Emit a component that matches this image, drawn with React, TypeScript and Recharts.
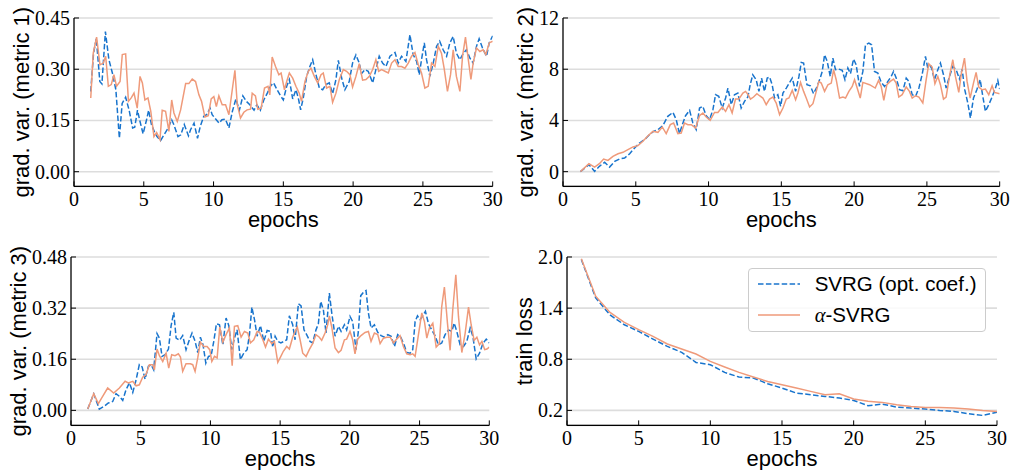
import React from "react";
import {
  LineChart,
  Line,
  XAxis,
  YAxis,
  CartesianGrid,
  Legend,
} from "recharts";

// series names and colours
const SERIES_NAMES = ["SVRG (opt. coef.)", "α-SVRG"];
const BLUE = "#1874cd";
const ORANGE = "#ef9a7a";
const INK = "#000000";

const EPOCH_TICKS = [0, 5, 10, 15, 20, 25, 30];

// grad. var. (metric 1) — [epoch, value]
const m1Svrg = [
  [1.2, 0.235], [1.4, 0.347], [1.6, 0.39], [1.85, 0.264], [2.0, 0.257], [2.25, 0.41], [2.5, 0.328], [2.75, 0.289],
  [3.0, 0.24], [3.25, 0.098], [3.45, 0.2], [3.7, 0.218], [3.95, 0.18], [4.2, 0.128], [4.35, 0.13], [4.55, 0.18],
  [4.7, 0.152], [4.95, 0.111], [5.2, 0.152], [5.35, 0.18], [5.55, 0.138], [5.8, 0.113], [5.95, 0.103], [6.2, 0.091],
  [6.45, 0.108], [6.75, 0.128], [7.0, 0.152], [7.15, 0.138], [7.45, 0.103], [7.65, 0.108], [7.9, 0.138], [8.2, 0.105],
  [8.35, 0.123], [8.6, 0.142], [8.85, 0.098], [9.05, 0.133], [9.3, 0.162], [9.5, 0.167], [9.75, 0.186], [9.9, 0.167],
  [10.15, 0.154], [10.4, 0.142], [10.6, 0.152], [10.85, 0.154], [11.1, 0.128], [11.35, 0.177], [11.6, 0.213], [11.85, 0.18],
  [12.1, 0.222], [12.35, 0.206], [12.6, 0.196], [12.9, 0.18], [13.1, 0.196], [13.35, 0.18], [13.6, 0.21], [13.85, 0.23],
  [14.1, 0.252], [14.3, 0.26], [14.55, 0.24], [14.8, 0.222], [15.0, 0.21], [15.24, 0.25], [15.43, 0.27], [15.67, 0.213],
  [15.9, 0.24], [16.07, 0.216], [16.24, 0.181], [16.43, 0.216], [16.67, 0.279], [16.9, 0.308], [17.1, 0.328], [17.34, 0.284],
  [17.58, 0.245], [17.82, 0.24], [18.05, 0.255], [18.29, 0.26], [18.53, 0.228], [18.77, 0.27], [18.94, 0.326], [19.18, 0.274],
  [19.41, 0.24], [19.72, 0.264], [19.96, 0.318], [20.2, 0.342], [20.44, 0.318], [20.6, 0.287], [20.85, 0.299], [21.08, 0.294],
  [21.4, 0.26], [21.63, 0.299], [21.87, 0.338], [22.11, 0.318], [22.35, 0.308], [22.64, 0.338], [23.0, 0.349], [23.23, 0.318],
  [23.47, 0.338], [23.78, 0.323], [24.07, 0.401], [24.3, 0.343], [24.55, 0.323], [24.74, 0.284], [24.9, 0.328], [25.1, 0.377],
  [25.26, 0.328], [25.5, 0.279], [25.74, 0.318], [25.98, 0.367], [26.2, 0.382], [26.45, 0.357], [26.7, 0.338], [26.93, 0.377],
  [27.17, 0.396], [27.4, 0.347], [27.65, 0.328], [27.9, 0.347], [28.12, 0.357], [28.36, 0.333], [28.6, 0.318], [28.84, 0.367],
  [29.03, 0.389], [29.27, 0.362], [29.56, 0.338], [29.75, 0.377], [30.0, 0.398],
];

const m1Alpha = [
  [1.2, 0.216], [1.38, 0.347], [1.62, 0.394], [1.86, 0.313], [2.1, 0.318], [2.27, 0.338], [2.46, 0.25], [2.67, 0.255],
  [2.86, 0.284], [3.05, 0.25], [3.3, 0.264], [3.46, 0.343], [3.7, 0.345], [3.9, 0.206], [4.1, 0.216], [4.3, 0.23],
  [4.53, 0.186], [4.73, 0.279], [4.9, 0.26], [5.08, 0.21], [5.3, 0.216], [5.5, 0.177], [5.73, 0.103], [5.92, 0.115],
  [6.16, 0.094], [6.32, 0.18], [6.56, 0.177], [6.8, 0.118], [7.0, 0.21], [7.16, 0.172], [7.4, 0.147], [7.64, 0.181],
  [8.0, 0.258], [8.23, 0.258], [8.47, 0.271], [8.71, 0.264], [8.95, 0.225], [9.14, 0.206], [9.38, 0.16], [9.62, 0.164],
  [9.83, 0.213], [10.02, 0.22], [10.2, 0.191], [10.38, 0.222], [10.62, 0.196], [10.86, 0.196], [11.1, 0.167], [11.34, 0.24],
  [11.53, 0.297], [11.7, 0.196], [11.93, 0.157], [12.17, 0.174], [12.4, 0.181], [12.65, 0.183], [12.77, 0.23], [13.0, 0.222],
  [13.17, 0.183], [13.41, 0.186], [13.65, 0.245], [13.9, 0.25], [14.03, 0.225], [14.2, 0.336], [14.44, 0.308], [14.68, 0.284],
  [14.84, 0.289], [15.08, 0.24], [15.24, 0.264], [15.43, 0.289], [15.67, 0.274], [15.9, 0.25], [16.14, 0.23], [16.3, 0.206],
  [16.55, 0.264], [16.79, 0.294], [16.98, 0.303], [17.22, 0.279], [17.46, 0.26], [17.7, 0.284], [17.86, 0.289], [18.1, 0.245],
  [18.34, 0.25], [18.53, 0.203], [18.77, 0.23], [19.01, 0.27], [19.3, 0.299], [19.53, 0.294], [19.77, 0.284], [19.96, 0.248],
  [20.2, 0.279], [20.44, 0.316], [20.68, 0.268], [20.92, 0.27], [21.16, 0.279], [21.4, 0.299], [21.63, 0.328], [21.83, 0.294],
  [22.04, 0.299], [22.28, 0.294], [22.52, 0.289], [22.76, 0.318], [23.0, 0.328], [23.23, 0.308], [23.47, 0.308], [23.71, 0.303],
  [23.95, 0.318], [24.19, 0.338], [24.43, 0.349], [24.67, 0.313], [24.9, 0.289], [25.14, 0.245], [25.38, 0.25], [25.62, 0.318],
  [25.86, 0.308], [26.1, 0.367], [26.33, 0.347], [26.52, 0.303], [26.76, 0.235], [26.98, 0.284], [27.17, 0.357], [27.4, 0.279],
  [27.65, 0.235], [27.84, 0.338], [28.05, 0.394], [28.27, 0.323], [28.44, 0.27], [28.6, 0.318], [28.84, 0.362], [29.08, 0.352],
  [29.32, 0.357], [29.51, 0.343], [29.75, 0.377], [30.0, 0.382],
];

// grad. var. (metric 2)
const m2Svrg = [
  [1.2, 0], [1.78, 0.55], [2.17, 0.03], [2.5, 0.42], [2.86, 0.73], [3.2, 0.36], [3.55, 0.8], [3.9, 1.0],
  [4.23, 1.07], [4.58, 1.4], [4.92, 1.85], [5.26, 2.24], [5.6, 2.5], [5.95, 2.9], [6.22, 3.15], [6.52, 3.28],
  [6.86, 3.6], [7.2, 4.32], [7.55, 4.63], [7.78, 4.06], [8.0, 2.97], [8.24, 3.8], [8.42, 4.37], [8.7, 4.79],
  [8.92, 3.8], [9.15, 3.28], [9.38, 4.97], [9.6, 5.1], [9.84, 4.37], [10.07, 4.06], [10.3, 4.84], [10.48, 6.01],
  [10.7, 5.88], [10.94, 4.97], [11.17, 5.75], [11.33, 6.53], [11.56, 5.23], [11.78, 6.01], [12.01, 6.14], [12.24, 4.97],
  [12.47, 5.49], [12.7, 5.83], [12.86, 6.79], [13.04, 7.57], [13.27, 7.18], [13.46, 6.27], [13.64, 7.31], [13.84, 6.27],
  [14.03, 7.31], [14.19, 7.39], [14.37, 6.79], [14.53, 5.75], [14.76, 6.01], [14.95, 5.1], [15.11, 6.14], [15.34, 6.53],
  [15.57, 6.97], [15.75, 7.31], [15.98, 6.27], [16.21, 7.44], [16.37, 8.53], [16.53, 8.48], [16.76, 6.79], [16.99, 6.71],
  [17.21, 6.09], [17.44, 6.61], [17.67, 7.31], [17.81, 7.83], [17.97, 9.13], [18.15, 8.61], [18.36, 7.44], [18.54, 8.87],
  [18.72, 7.96], [18.95, 8.01], [19.18, 7.91], [19.37, 7.18], [19.57, 8.09], [19.75, 7.65], [19.96, 8.8], [20.14, 8.35],
  [20.37, 6.66], [20.6, 7.83], [20.78, 9.91], [21.01, 10.04], [21.2, 9.91], [21.4, 7.83], [21.63, 7.7], [21.86, 6.97],
  [22.09, 6.66], [22.32, 7.05], [22.55, 7.44], [22.71, 7.83], [22.89, 7.31], [23.12, 6.4], [23.35, 6.32], [23.58, 7.31],
  [23.76, 7.05], [23.99, 6.01], [24.22, 5.88], [24.45, 6.53], [24.67, 7.57], [24.9, 9.0], [25.06, 8.09], [25.29, 8.22],
  [25.52, 7.18], [25.75, 7.96], [25.93, 8.48], [26.14, 7.57], [26.32, 6.53], [26.55, 7.44], [26.78, 8.22], [27.01, 7.96],
  [27.24, 7.23], [27.42, 8.01], [27.6, 6.4], [27.81, 5.36], [27.99, 4.19], [28.2, 5.75], [28.43, 6.4], [28.66, 7.18],
  [28.84, 5.88], [29.02, 4.71], [29.25, 5.23], [29.48, 5.83], [29.71, 6.53], [29.87, 7.13], [30.0, 6.45],
];

const m2Alpha = [
  [1.2, 0], [1.78, 0.62], [2.17, 0.36], [2.5, 0.62], [2.79, 0.99], [3.09, 0.88], [3.43, 1.2], [3.78, 1.4],
  [4.12, 1.51], [4.46, 1.72], [4.81, 1.93], [5.15, 2.03], [5.49, 2.37], [5.84, 2.81], [6.18, 3.15], [6.52, 3.07],
  [6.82, 3.49], [7.09, 2.97], [7.37, 3.67], [7.6, 3.8], [7.89, 2.97], [8.12, 3.02], [8.35, 3.8], [8.58, 3.67],
  [8.81, 3.67], [9.11, 3.41], [9.38, 4.37], [9.61, 4.58], [9.84, 4.27], [10.11, 4.01], [10.41, 4.63], [10.64, 4.63],
  [10.94, 5.05], [11.17, 4.71], [11.4, 5.23], [11.62, 4.58], [11.85, 5.67], [12.08, 5.67], [12.36, 6.14], [12.54, 6.27],
  [12.72, 6.01], [12.88, 5.67], [13.09, 5.83], [13.32, 6.09], [13.5, 5.93], [13.73, 5.75], [13.96, 5.23], [14.19, 5.67],
  [14.42, 5.83], [14.65, 5.36], [14.88, 4.45], [15.11, 4.97], [15.34, 5.67], [15.52, 5.75], [15.75, 6.35], [15.98, 5.62],
  [16.14, 6.14], [16.32, 6.97], [16.53, 6.27], [16.71, 5.75], [16.94, 5.05], [17.17, 5.31], [17.4, 6.27], [17.58, 7.05],
  [17.74, 6.92], [17.97, 6.27], [18.2, 6.79], [18.43, 6.92], [18.59, 7.96], [18.77, 7.18], [19.0, 5.75], [19.23, 5.83],
  [19.41, 5.75], [19.64, 6.27], [19.87, 6.66], [20.03, 7.18], [20.21, 6.53], [20.42, 5.75], [20.6, 6.97], [21.06, 6.79],
  [21.45, 6.53], [21.68, 7.13], [21.86, 6.66], [22.04, 5.57], [22.25, 6.79], [22.48, 7.05], [22.71, 7.23], [22.89, 6.92],
  [23.07, 5.83], [23.3, 6.01], [23.58, 6.61], [23.8, 6.27], [23.99, 5.75], [24.22, 5.93], [24.45, 5.83], [24.72, 5.36],
  [24.95, 7.18], [25.13, 8.43], [25.36, 8.17], [25.55, 6.87], [25.75, 7.44], [25.93, 6.79], [26.14, 5.67], [26.32, 5.83],
  [26.55, 7.44], [26.78, 8.74], [26.96, 7.44], [27.19, 6.19], [27.37, 7.7], [27.58, 8.87], [27.76, 7.05], [27.97, 5.75],
  [28.2, 6.92], [28.38, 7.75], [28.56, 6.61], [28.79, 6.4], [29.02, 6.45], [29.25, 6.01], [29.48, 6.71], [29.64, 6.19],
  [30.0, 6.09],
];

// grad. var. (metric 3)
const m3Svrg = [
  [1.2, 0.004], [1.63, 0.052], [2.03, 0.004], [2.39, 0.013], [2.68, 0.023], [2.99, 0.028], [3.23, 0.052], [3.47, 0.044],
  [3.71, 0.031], [3.95, 0.065], [4.19, 0.086], [4.43, 0.056], [4.67, 0.096], [4.9, 0.143], [5.1, 0.136], [5.31, 0.098],
  [5.55, 0.138], [5.74, 0.143], [5.93, 0.127], [6.17, 0.24], [6.34, 0.226], [6.53, 0.169], [6.75, 0.174], [6.99, 0.192],
  [7.18, 0.265], [7.37, 0.307], [7.54, 0.226], [7.78, 0.219], [8.01, 0.234], [8.25, 0.19], [8.49, 0.221], [8.68, 0.242],
  [8.9, 0.216], [9.09, 0.181], [9.28, 0.229], [9.47, 0.205], [9.67, 0.148], [9.86, 0.169], [10.05, 0.171], [10.24, 0.216],
  [10.43, 0.271], [10.65, 0.268], [10.89, 0.205], [11.12, 0.289], [11.32, 0.265], [11.53, 0.19], [11.72, 0.226], [11.91, 0.252],
  [12.15, 0.159], [12.39, 0.179], [12.63, 0.19], [12.8, 0.237], [12.97, 0.323], [13.16, 0.284], [13.35, 0.232], [13.59, 0.265],
  [13.83, 0.216], [14.07, 0.25], [14.31, 0.247], [14.47, 0.198], [14.64, 0.232], [14.83, 0.216], [15.05, 0.211], [15.28, 0.216],
  [15.47, 0.221], [15.66, 0.296], [15.9, 0.268], [16.07, 0.221], [16.31, 0.334], [16.5, 0.327], [16.71, 0.252], [16.9, 0.237],
  [17.14, 0.216], [17.33, 0.211], [17.57, 0.252], [17.74, 0.271], [17.91, 0.341], [18.1, 0.315], [18.29, 0.242], [18.53, 0.367],
  [18.7, 0.305], [18.94, 0.232], [19.18, 0.263], [19.37, 0.247], [19.61, 0.268], [19.77, 0.252], [20.01, 0.294], [20.2, 0.278],
  [20.44, 0.19], [20.61, 0.247], [20.78, 0.359], [20.97, 0.369], [21.16, 0.375], [21.33, 0.305], [21.52, 0.258], [21.76, 0.268],
  [22.0, 0.244], [22.24, 0.234], [22.48, 0.229], [22.72, 0.237], [22.96, 0.232], [23.2, 0.2], [23.43, 0.237], [23.65, 0.229],
  [23.89, 0.205], [24.08, 0.181], [24.32, 0.179], [24.51, 0.19], [24.68, 0.278], [24.85, 0.296], [25.04, 0.284], [25.23, 0.296],
  [25.42, 0.31], [25.64, 0.271], [25.87, 0.252], [26.11, 0.234], [26.35, 0.205], [26.59, 0.211], [26.83, 0.237], [27.07, 0.252],
  [27.31, 0.247], [27.48, 0.273], [27.67, 0.247], [27.91, 0.205], [28.15, 0.2], [28.39, 0.216], [28.63, 0.258], [28.82, 0.232],
  [29.06, 0.161], [29.3, 0.179], [29.54, 0.209], [29.78, 0.223], [30.0, 0.211],
];

const m3Alpha = [
  [1.2, 0.004], [1.63, 0.052], [1.96, 0.021], [2.27, 0.044], [2.63, 0.07], [3.06, 0.054], [3.47, 0.07], [3.88, 0.091],
  [4.11, 0.086], [4.43, 0.091], [4.67, 0.077], [4.9, 0.08], [5.14, 0.104], [5.38, 0.112], [5.62, 0.143], [5.86, 0.143],
  [5.98, 0.127], [6.17, 0.192], [6.34, 0.171], [6.58, 0.153], [6.82, 0.179], [7.01, 0.132], [7.22, 0.174], [7.46, 0.171],
  [7.7, 0.177], [7.85, 0.167], [8.01, 0.122], [8.25, 0.146], [8.56, 0.146], [8.73, 0.143], [8.9, 0.122], [9.09, 0.164],
  [9.28, 0.213], [9.52, 0.2], [9.76, 0.2], [9.95, 0.19], [10.1, 0.153], [10.29, 0.169], [10.48, 0.164], [10.67, 0.261],
  [10.89, 0.213], [11.12, 0.237], [11.36, 0.258], [11.56, 0.14], [11.72, 0.263], [11.96, 0.265], [12.2, 0.229], [12.44, 0.247],
  [12.68, 0.242], [12.87, 0.211], [13.11, 0.221], [13.35, 0.247], [13.52, 0.244], [13.76, 0.221], [13.95, 0.198], [14.16, 0.223],
  [14.4, 0.209], [14.59, 0.216], [14.83, 0.15], [15.05, 0.169], [15.23, 0.185], [15.47, 0.2], [15.66, 0.192], [15.9, 0.229],
  [16.07, 0.247], [16.23, 0.261], [16.43, 0.221], [16.62, 0.179], [16.86, 0.169], [17.09, 0.19], [17.33, 0.209], [17.57, 0.237],
  [17.81, 0.229], [17.98, 0.219], [18.22, 0.242], [18.41, 0.268], [18.53, 0.296], [18.7, 0.261], [18.94, 0.195], [19.18, 0.181],
  [19.37, 0.188], [19.61, 0.221], [19.77, 0.223], [20.01, 0.247], [20.2, 0.221], [20.37, 0.177], [20.56, 0.223], [20.8, 0.234],
  [21.09, 0.244], [21.33, 0.247], [21.52, 0.216], [21.76, 0.242], [22.0, 0.237], [22.17, 0.209], [22.41, 0.226], [22.65, 0.229],
  [22.89, 0.229], [23.13, 0.211], [23.36, 0.223], [23.6, 0.234], [23.84, 0.2], [24.08, 0.177], [24.32, 0.174], [24.51, 0.177],
  [24.68, 0.169], [24.92, 0.237], [25.16, 0.305], [25.35, 0.278], [25.52, 0.226], [25.71, 0.258], [25.95, 0.273], [26.19, 0.198],
  [26.42, 0.209], [26.59, 0.325], [26.78, 0.386], [27.0, 0.273], [27.19, 0.188], [27.38, 0.315], [27.6, 0.424], [27.79, 0.294],
  [28.03, 0.181], [28.27, 0.242], [28.51, 0.323], [28.7, 0.268], [28.91, 0.219], [29.11, 0.229], [29.3, 0.205], [29.47, 0.216],
  [29.67, 0.19], [29.83, 0.192], [30.0, 0.198],
];

// train loss, one value per epoch (1..30)
const lossEpochs = Array.from({ length: 30 }, (_, i) => i + 1);
const lossSvrg = [
  1.97, 1.52, 1.32, 1.205, 1.127, 1.037, 0.951, 0.881, 0.763, 0.736,
  0.646, 0.591, 0.58, 0.513, 0.462, 0.403, 0.384, 0.364, 0.345, 0.317,
  0.255, 0.274, 0.239, 0.227, 0.216, 0.2, 0.188, 0.161, 0.141, 0.177,
];
const lossAlpha = [
  1.98, 1.54, 1.35, 1.233, 1.147, 1.069, 0.979, 0.92, 0.861, 0.775,
  0.709, 0.646, 0.591, 0.54, 0.5, 0.462, 0.423, 0.384, 0.396, 0.333,
  0.306, 0.294, 0.267, 0.247, 0.235, 0.235, 0.227, 0.216, 0.2, 0.188,
];

const toRows = (pairs: number[][]) => pairs.map(([epoch, v]) => ({ epoch, v }));
const lossRows = (vals: number[]) => vals.map((v, i) => ({ epoch: lossEpochs[i], v }));

const SERIF = "'Liberation Serif', 'Times New Roman', 'DejaVu Serif', serif";
const SANS = "'Liberation Sans', Arial, sans-serif";
const PAD = 4;
const TICK = 5;

const makeYTick = (digits: number) => (props: any) => {
  const { x, y, payload } = props;
  return (
    <g>
      <line x1={x + PAD} x2={x + PAD + TICK} y1={y} y2={y} stroke={INK} strokeWidth={1} />
      <text x={x} y={y + 7} textAnchor="end" style={{ fontFamily: SERIF, fontSize: 20 }} fill={INK}>
        {Number(payload.value).toFixed(digits)}
      </text>
    </g>
  );
};

const XTick = (props: any) => {
  const { x, y, payload } = props;
  return (
    <g>
      <line x1={x} x2={x} y1={y} y2={y - TICK} stroke={INK} strokeWidth={1} />
      <text x={x} y={y + 20} textAnchor="middle" style={{ fontFamily: SERIF, fontSize: 20 }} fill={INK}>
        {payload.value}
      </text>
    </g>
  );
};

const yTitle = (text: string, dx: number) => (props: any) => {
  const { x, y, width, height } = props.viewBox;
  const cx = x + width + dx;
  const cy = y + height / 2;
  return (
    <text
      x={cx}
      y={cy}
      transform={`rotate(-90 ${cx} ${cy})`}
      textAnchor="middle"
      dominantBaseline="central"
      style={{ fontFamily: SANS, fontSize: 22 }}
      fill={INK}
    >
      {text}
    </text>
  );
};

const xTitle = (props: any) => {
  const { x, y, width } = props.viewBox;
  return (
    <text x={x + width / 2} y={y + 41} textAnchor="middle" style={{ fontFamily: SANS, fontSize: 22 }} fill={INK}>
      epochs
    </text>
  );
};

const LegendBox = () => (
  <div
    style={{
      width: 238,
      height: 64,
      boxSizing: "border-box",
      border: "1px solid #cccccc",
      borderRadius: 4,
      background: "rgba(255,255,255,0.85)",
      position: "relative",
      fontFamily: SANS,
      fontSize: 20.5,
      color: INK,
    }}
  >
    {SERIES_NAMES.map((name, i) => (
      <div key={name} style={{ position: "absolute", left: 9, top: i === 0 ? 1 : 32, height: 28, display: "flex", alignItems: "center" }}>
        <svg width={42} height={6} style={{ display: "block" }}>
          <line
            x1={0}
            x2={42}
            y1={3}
            y2={3}
            stroke={i === 0 ? BLUE : ORANGE}
            strokeWidth={1.5}
            strokeDasharray={i === 0 ? "5.5 2.4" : undefined}
          />
        </svg>
        <span style={{ marginLeft: 15, whiteSpace: "nowrap", lineHeight: "28px" }}>
          {i === 0 ? (
            name
          ) : (
            <>
              <span style={{ fontFamily: SERIF, fontStyle: "italic" }}>α</span>-SVRG
            </>
          )}
        </span>
      </div>
    ))}
  </div>
);

type PanelProps = {
  plot: { x: number; y: number; w: number; h: number };
  yDomain: [number, number];
  yTicks: number[];
  digits: number;
  title: string;
  titleDx: number;
  blue: { epoch: number; v: number }[];
  orange: { epoch: number; v: number }[];
  legend?: { x: number; y: number };
};

const YW = 80;
const XH = 50;
const MT = 10;
const MR = 10;

function Panel({ plot, yDomain, yTicks, digits, title, titleDx, blue, orange, legend }: PanelProps) {
  const left = plot.x - YW;
  const top = plot.y - MT;
  return (
    <div style={{ position: "absolute", left, top }}>
      <LineChart
        width={plot.w + YW + MR}
        height={plot.h + MT + XH}
        margin={{ top: MT, right: MR, bottom: 0, left: 0 }}
      >
        <CartesianGrid vertical={false} stroke="#dddddd" strokeWidth={1.6} />
        <XAxis
          type="number"
          dataKey="epoch"
          domain={[0, 30]}
          ticks={EPOCH_TICKS}
          interval={0}
          allowDataOverflow
          height={XH}
          tickSize={0}
          tickMargin={0}
          tickLine={false}
          tick={XTick}
          axisLine={{ stroke: INK, strokeWidth: 1.3 }}
          label={xTitle}
        />
        <YAxis
          type="number"
          domain={yDomain}
          ticks={yTicks}
          interval={0}
          allowDataOverflow
          width={YW}
          tickSize={0}
          tickMargin={PAD}
          tickLine={false}
          tick={makeYTick(digits)}
          axisLine={{ stroke: INK, strokeWidth: 1.3 }}
          label={yTitle(title, titleDx)}
        />
        <Line
          data={blue}
          dataKey="v"
          name={SERIES_NAMES[0]}
          type="linear"
          stroke={BLUE}
          strokeWidth={1.5}
          strokeDasharray="5.5 2.4"
          dot={false}
          activeDot={false}
          isAnimationActive={false}
        />
        <Line
          data={orange}
          dataKey="v"
          name={SERIES_NAMES[1]}
          type="linear"
          stroke={ORANGE}
          strokeWidth={1.5}
          dot={false}
          activeDot={false}
          isAnimationActive={false}
        />
        {legend && (
          <Legend
            layout="vertical"
            align="center"
            verticalAlign="middle"
            content={() => <LegendBox />}
            wrapperStyle={{ left: legend.x - left, top: legend.y - top, width: 238, height: 64 }}
          />
        )}
      </LineChart>
    </div>
  );
}

export default function App() {
  return (
    <div
      style={{
        position: "absolute",
        left: 0,
        top: 0,
        width: 1011,
        height: 470,
        background: "#ffffff",
        overflow: "hidden",
      }}
    >
      <Panel
        plot={{ x: 74, y: 18.3, w: 418.7, h: 168.4 }}
        yDomain={[-0.043, 0.45]}
        yTicks={[0, 0.15, 0.3, 0.45]}
        digits={2}
        title="grad. var. (metric 1)"
        titleDx={-52.3}
        blue={toRows(m1Svrg)}
        orange={toRows(m1Alpha)}
      />
      <Panel
        plot={{ x: 563.3, y: 18.3, w: 436.7, h: 168.4 }}
        yDomain={[-1.15, 12]}
        yTicks={[0, 4, 8, 12]}
        digits={0}
        title="grad. var. (metric 2)"
        titleDx={-37.3}
        blue={toRows(m2Svrg)}
        orange={toRows(m2Alpha)}
      />
      <Panel
        plot={{ x: 71, y: 257.3, w: 418.3, h: 168.4 }}
        yDomain={[-0.047, 0.48]}
        yTicks={[0, 0.16, 0.32, 0.48]}
        digits={2}
        title="grad. var. (metric 3)"
        titleDx={-52.3}
        blue={toRows(m3Svrg)}
        orange={toRows(m3Alpha)}
      />
      <Panel
        plot={{ x: 566.7, y: 257.3, w: 430, h: 168.4 }}
        yDomain={[0.024, 2.0]}
        yTicks={[0.2, 0.8, 1.4, 2.0]}
        digits={1}
        title="train loss"
        titleDx={-42.3}
        blue={lossRows(lossSvrg)}
        orange={lossRows(lossAlpha)}
        legend={{ x: 747.7, y: 268 }}
      />
    </div>
  );
}
